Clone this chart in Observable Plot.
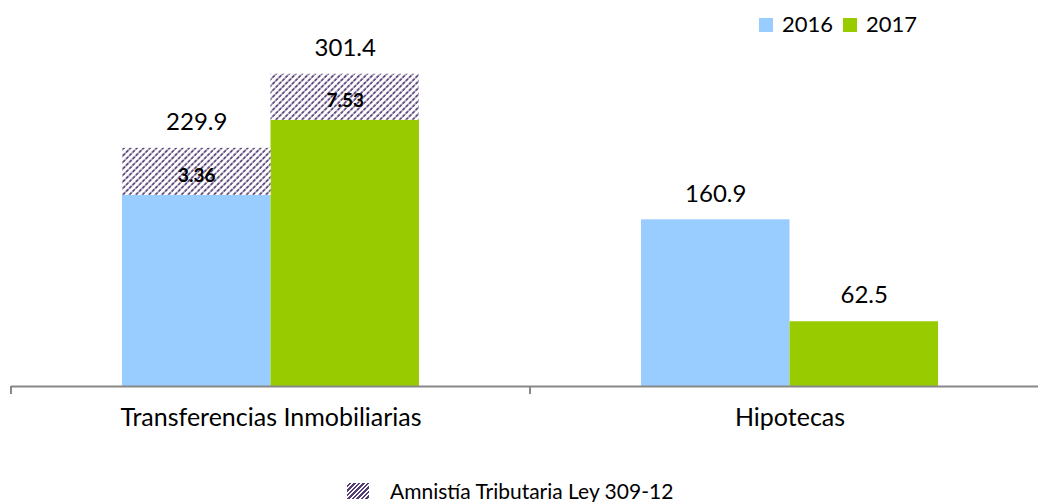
<!DOCTYPE html>
<html>
<head>
<meta charset="utf-8">
<script src="https://cdn.jsdelivr.net/npm/d3@7"></script>
<script src="https://cdn.jsdelivr.net/npm/@observablehq/plot@0.6"></script>
<style>
  html, body { margin: 0; padding: 0; background: #fff; overflow: hidden; }
  body { width: 1038px; height: 502px; font-family: Lato, "Open Sans", sans-serif; color: #000; }
  #topLegend { position: relative; height: 30px; }
  #chart { height: 430px; width: 1038px; overflow: hidden; }
  #bottomLegend { position: relative; height: 42px; }
  .sw { position: absolute; width: 14px; height: 14px; }
  .lt { position: absolute; font-size: 22px; line-height: 22px; white-space: nowrap; }
</style>
</head>
<body>
<div id="topLegend"></div>
<div id="chart"></div>
<div id="bottomLegend"></div>
<script>
// ---- data ----
const categories = ["Transferencias Inmobiliarias", "Hipotecas"];
const years = ["2016", "2017"];
const totals2016 = [229.9, 160.9];
const totals2017 = [301.4, 62.5];
// hatched (amnesty) part on top of each bar
const amnistia2016 = [45.4, 0];
const amnistia2017 = [44.4, 0];
const amnistiaLabels2016 = ["3.36", null];
const amnistiaLabels2017 = ["7.53", null];
const yearColors = ["#99CCFF", "#99CC00"];
const amnistiaLegend = "Amnistía Tributaria Ley 309-12";

const rows = [];
categories.forEach((c, i) => {
  rows.push({cat: c, year: years[0], total: totals2016[i], amn: amnistia2016[i], label: amnistiaLabels2016[i]});
  rows.push({cat: c, year: years[1], total: totals2017[i], amn: amnistia2017[i], label: amnistiaLabels2017[i]});
});
rows.forEach(d => d.base = d.total - d.amn);
const hatched = rows.filter(d => d.amn > 0);

const chart = Plot.plot({
  width: 1049,
  height: 430,
  marginLeft: 11,
  marginRight: 0,
  marginTop: 24.5,
  marginBottom: 74,
  style: {fontFamily: "Lato, 'Open Sans', sans-serif", fontSize: "24px", color: "#000", background: "#fff", overflow: "visible", maxWidth: "none"},
  fx: {domain: categories, padding: 0, round: false},
  x: {domain: years, paddingInner: 0, paddingOuter: 0.7475, round: false, axis: null},
  y: {domain: [0, 320], axis: null},
  color: {domain: years, range: yearColors},
  marks: [
    Plot.barY(rows, {fx: "cat", x: "year", y: "base", fill: "year"}),
    Plot.barY(hatched, {fx: "cat", x: "year", y1: "base", y2: "total", fill: "url(#hatch)"}),
    Plot.ruleY([0], {stroke: "#888", strokeWidth: 2}),
    Plot.text(rows, {fx: "cat", x: "year", y: "total", text: d => d.total.toFixed(1), dy: -26, fontSize: 24, fill: "#000"}),
    Plot.text(hatched, {fx: "cat", x: "year", y: d => d.base + d.amn / 2, text: "label", dy: 4, fontSize: 19, fontWeight: "bold", fill: "#000"}),
    Plot.axisFx({anchor: "bottom", tickSize: 0, tickPadding: 22, label: null, fontSize: 25})
  ]
});

// hatch pattern definition
const svgSel = d3.select(chart);
const defs = svgSel.insert("defs", ":first-child");
const pat = defs.append("pattern")
  .attr("id", "hatch").attr("patternUnits", "userSpaceOnUse")
  .attr("width", 4.6).attr("height", 4.6)
  .attr("patternTransform", "rotate(45)");
pat.append("rect").attr("width", 4.6).attr("height", 4.6).attr("fill", "#fff");
pat.append("line").attr("x1", 1).attr("y1", 0).attr("x2", 1).attr("y2", 4.6)
  .attr("stroke", "#553d75").attr("stroke-width", 1.7).attr("stroke-dasharray", "2.2 1");

// category tick marks at the group boundaries
const fxs = chart.scale("fx");
const ys = chart.scale("y");
const y0 = ys.apply(0);
const bounds = categories.map(c => fxs.apply(c));
svgSel.append("g").selectAll("line").data(bounds).join("line")
  .attr("x1", d => d).attr("x2", d => d)
  .attr("y1", y0).attr("y2", y0 + 8)
  .attr("stroke", "#888").attr("stroke-width", 2);

document.getElementById("chart").appendChild(chart);

// top legend
const topSel = d3.select("#topLegend");
const legendPos = [{sq: 759, tx: 782}, {sq: 843, tx: 866}];
years.forEach((yr, i) => {
  topSel.append("div").attr("class", "sw")
    .style("left", legendPos[i].sq + "px").style("top", "18px")
    .style("background", yearColors[i]);
  topSel.append("div").attr("class", "lt")
    .style("left", legendPos[i].tx + "px").style("top", "13px").text(yr);
});

// bottom legend
const bottomSel = d3.select("#bottomLegend");
bottomSel.append("div")
  .style("position", "absolute").style("left", "347px").style("top", "23px")
  .style("width", "22px").style("height", "16px")
  .style("background", "repeating-linear-gradient(135deg, #fff 0px, #fff 1.6px, #553d75 1.6px, #553d75 3.2px)");
bottomSel.append("div").attr("class", "lt")
  .style("left", "390px").style("top", "20px").style("font-size", "21px")
  .text(amnistiaLegend);
</script>
</body>
</html>
